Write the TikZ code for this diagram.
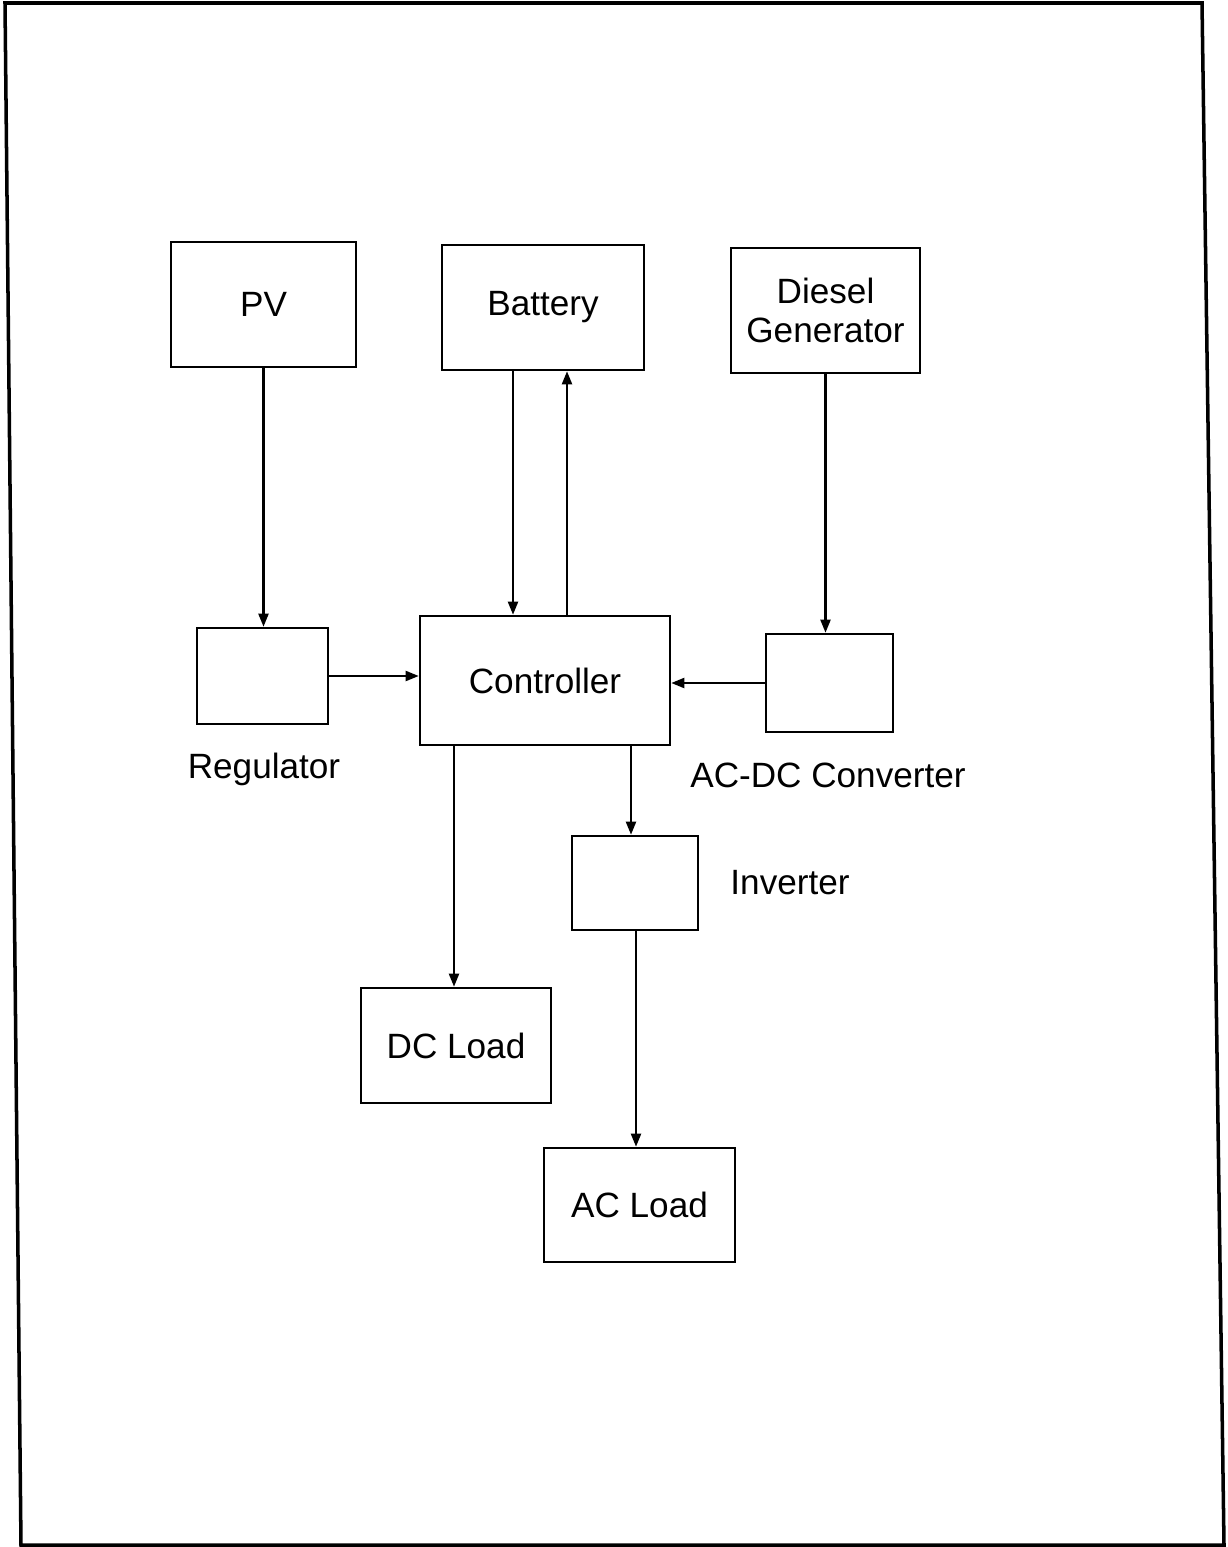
\documentclass[tikz,border=0pt]{standalone}
\usepackage{fontspec}
\setmainfont{Liberation Sans}
\usetikzlibrary{arrows.meta,positioning,calc}

\begin{document}
\begin{tikzpicture}[
    x=0.02cm,y=-0.02cm,
    blk/.style={draw,line width=1.5pt,inner sep=0pt,minimum height=2.5cm,align=center,font=\fontsize{20}{22}\selectfont},
    lbl/.style={font=\fontsize{20}{22}\selectfont},
    flow/.style={line width=1.2pt,-{Triangle[length=0.26cm,width=0.2cm]}},
    >=Triangle
]
\useasboundingbox (0,0) rectangle (1227,1547);
% scanned page frame
\coordinate (f1) at (5,3);
\coordinate (f2) at (1202,3);
\coordinate (f3) at (1224,1545);
\coordinate (f4) at (21,1545);
\draw[line width=2pt] (f1) -- (f2) -- (f3) -- (f4) -- cycle;

% sources
\node[blk,minimum width=3.7cm] (pv) at (263.5,304.5) {PV};
\node[blk,minimum width=4.04cm] (bat) at (543,307.5) {\raisebox{-0.2cm}{Battery}};
\node[blk,minimum width=3.78cm] (dg) at (825.5,310.5) {Diesel\\Generator};

% middle row
\node[blk,minimum width=2.62cm,minimum height=1.92cm] (reg) at (262.5,676) {};
\node[blk,minimum width=5cm,minimum height=2.58cm] (ctrl) at (545,680.5) {Controller};
\node[blk,minimum width=2.54cm,minimum height=1.96cm] (acdc) at (829.5,683) {};
\node[lbl] (reglbl) at (264,769) {Regulator};
\node[lbl] (acdclbl) at (828,775) {AC-DC Converter};

% loads
\node[blk,minimum width=2.52cm,minimum height=1.88cm] (inv) at (635,883) {};
\node[lbl] (invlbl) at (790,883) {Inverter};
\node[blk,minimum width=3.8cm,minimum height=2.3cm] (dc) at (456,1045.5) {DC Load};
\node[blk,minimum width=3.82cm,minimum height=2.28cm] (ac) at (639.5,1205) {AC Load};

% connections
\draw[flow] (pv.south) -- (pv.south |- reg.north);
\draw[flow] (bat.south -| 513,0) -- (ctrl.north -| 513,0);
\draw[flow] (ctrl.north -| 567,0) -- (bat.south -| 567,0);
\draw[flow] (dg.south) -- (dg.south |- acdc.north);
\draw[flow] (reg.east) -- (reg.east -| ctrl.west);
\draw[flow] (acdc.west) -- (acdc.west -| ctrl.east);
\draw[flow] (ctrl.south -| 454,0) -- (dc.north -| 454,0);
\draw[flow] (ctrl.south -| 631,0) -- (inv.north -| 631,0);
\draw[flow] (inv.south -| 636,0) -- (ac.north -| 636,0);
\end{tikzpicture}
\end{document}
